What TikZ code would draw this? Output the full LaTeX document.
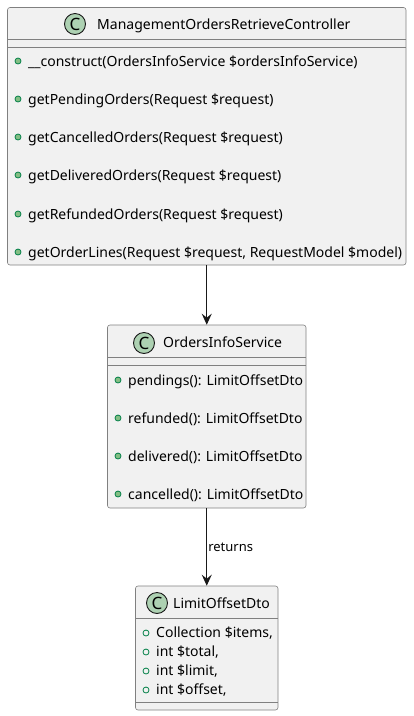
\documentclass[tikz,border=0pt]{standalone}
\usepackage{fontspec}
\setmainfont{Noto Sans}
\usetikzlibrary{arrows.meta}
\definecolor{boxfill}{HTML}{F1F1F1}
\definecolor{boxline}{HTML}{808080}
\definecolor{iconfill}{HTML}{ADD1B2}
\definecolor{dotline}{HTML}{038048}
\definecolor{dotfill}{HTML}{84BE84}
\tikzset{
  classbox/.style={draw=boxline, fill=boxfill, rounded corners=2.5pt, line width=0.6pt, inner sep=0pt},
  sepline/.style={draw=boxline, line width=0.6pt},
  icon/.style={circle, draw=black!90, fill=iconfill, line width=0.9pt, minimum size=21pt, inner sep=0pt, font=\fontsize{17}{17}\selectfont},
  title/.style={anchor=base west, inner sep=0pt, font=\fontsize{14}{14}\selectfont},
  member/.style={anchor=base west, inner sep=0pt, font=\fontsize{14}{14}\selectfont},
  method/.style={circle, draw=dotline, fill=dotfill, line width=0.8pt, minimum size=6pt, inner sep=0pt},
  field/.style={circle, draw=dotline, line width=0.8pt, minimum size=6pt, inner sep=0pt},
  link/.style={draw=black!90, line width=1pt, -{Stealth[length=11pt, width=10pt, inset=4pt]}},
}
\begin{document}
\begin{tikzpicture}[x=1pt, y=-1pt]
\useasboundingbox (0,0) rectangle (413,716);

% controller
\node[classbox, minimum width=398.5pt, minimum height=257.5pt] (ctrl) at (206.75,136.25) {};
\draw[sepline] (7.5,39) -- (406,39);
\draw[sepline] (7.5,47) -- (406,47);
\node[icon] (ctrlicon) at (75,24) {C};
\node[title] (ctrltitle) at (97,29) {ManagementOrdersRetrieveController};
\node[method] (m1) at (18,61) {};
\node[member] (m1text) at (28,66) {\_\_construct(OrdersInfoService \$ordersInfoService)};
\node[method] (m2) at (18,99) {};
\node[member] (m2text) at (28,104) {getPendingOrders(Request \$request)};
\node[method] (m3) at (18,137) {};
\node[member] (m3text) at (28,142) {getCancelledOrders(Request \$request)};
\node[method] (m4) at (18,175) {};
\node[member] (m4text) at (28,180) {getDeliveredOrders(Request \$request)};
\node[method] (m5) at (18,214) {};
\node[member] (m5text) at (28,219) {getRefundedOrders(Request \$request)};
\node[method] (m6) at (18,252) {};
\node[member] (m6text) at (28,257) {getOrderLines(Request \$request, RequestModel \$model)};

% service
\node[classbox, minimum width=198.5pt, minimum height=183pt] (svc) at (206.75,416.5) {};
\draw[sepline] (107.5,357) -- (306,357);
\draw[sepline] (107.5,365) -- (306,365);
\node[icon] (svcicon) at (144,343) {C};
\node[title] (svctitle) at (163,347) {OrdersInfoService};
\node[method] (s1) at (118,380) {};
\node[member] (s1text) at (128,385) {pendings(): LimitOffsetDto};
\node[method] (s2) at (118,418) {};
\node[member] (s2text) at (128,423) {refunded(): LimitOffsetDto};
\node[method] (s3) at (118,456) {};
\node[member] (s3text) at (128,461) {delivered(): LimitOffsetDto};
\node[method] (s4) at (118,494) {};
\node[member] (s4text) at (128,499) {cancelled(): LimitOffsetDto};

% dto
\node[classbox, minimum width=142.5pt, minimum height=124pt] (dto) at (206.75,648) {};
\draw[sepline] (135.5,618) -- (278,618);
\draw[sepline] (135.5,702) -- (278,702);
\node[icon] (dtoicon) at (157,603) {C};
\node[title] (dtotitle) at (173,608) {LimitOffsetDto};
\node[field] (d1) at (146,633) {};
\node[member] (d1text) at (156,637) {Collection \$items,};
\node[field] (d2) at (146,652) {};
\node[member] (d2text) at (156,656) {int \$total,};
\node[field] (d3) at (146,671) {};
\node[member] (d3text) at (156,675) {int \$limit,};
\node[field] (d4) at (146,690) {};
\node[member] (d4text) at (156,694) {int \$offset,};

\draw[link] (ctrl) -- (svc);
\draw[link] (svc) -- node[right, inner sep=1pt, font=\fontsize{13}{13}\selectfont] (ret) {returns} (dto);
\end{tikzpicture}
\end{document}
